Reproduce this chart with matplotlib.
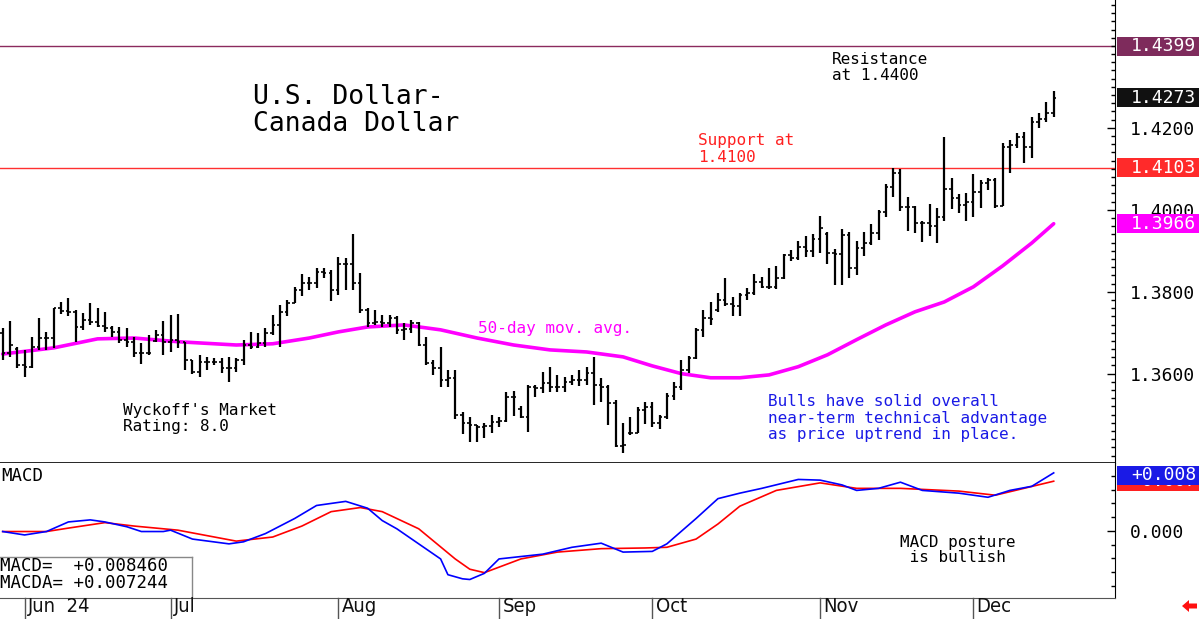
import numpy as np
import pandas as pd
import matplotlib
matplotlib.use('Agg')
import matplotlib.pyplot as plt
from matplotlib.patches import Rectangle, Polygon
from matplotlib.lines import Line2D
from matplotlib.transforms import blended_transform_factory
from matplotlib.ticker import FormatStrFormatter, MultipleLocator, FixedLocator

plt.rcParams['font.family'] = ['DejaVu Sans Mono', 'DejaVu Sans']

# ---------------- data ----------------
start_date = '2024-05-29'

highs = [1.3712, 1.3729, 1.3665, 1.3658, 1.3690, 1.3736, 1.3702, 1.3761, 1.3775, 1.3785,
         1.3756, 1.3748, 1.3773, 1.3761, 1.3751, 1.3717, 1.3714, 1.3712, 1.3690, 1.3675,
         1.3695, 1.3707, 1.3729, 1.3743, 1.3746, 1.3678, 1.3634, 1.3646, 1.3641, 1.3638,
         1.3638, 1.3641, 1.3638, 1.3682, 1.3702, 1.3699, 1.3712, 1.3743, 1.3768, 1.3780,
         1.3812, 1.3843, 1.3836, 1.3858, 1.3858, 1.3853, 1.3885, 1.3883, 1.3941, 1.3846,
         1.3761, 1.3756, 1.3743, 1.3743, 1.3741, 1.3724, 1.3731, 1.3726, 1.3690, 1.3634,
         1.3665, 1.3609, 1.3609, 1.3507, 1.3495, 1.3475, 1.3480, 1.3499, 1.3495, 1.3556,
         1.3558, 1.3521, 1.3573, 1.3573, 1.3604, 1.3617, 1.3597, 1.3592, 1.3597, 1.3609,
         1.3617, 1.3641, 1.3590, 1.3573, 1.3536, 1.3480, 1.3495, 1.3519, 1.3531, 1.3531,
         1.3499, 1.3553, 1.3580, 1.3634, 1.3643, 1.3712, 1.3756, 1.3775, 1.3797, 1.3834,
         1.3787, 1.3797, 1.3809, 1.3843, 1.3836, 1.3858, 1.3863, 1.3892, 1.3902, 1.3924,
         1.3936, 1.3941, 1.3985, 1.3946, 1.3904, 1.3953, 1.3946, 1.3924, 1.3946, 1.3965,
         1.4000, 1.4063, 1.4102, 1.4100, 1.4031, 1.4009, 1.3973, 1.4014, 1.4005, 1.4178,
         1.4078, 1.4039, 1.4041, 1.4087, 1.4073, 1.4078, 1.4078, 1.4163, 1.4170, 1.4188,
         1.4190, 1.4227, 1.4236, 1.4263, 1.4290]

lows = [1.3634, 1.3641, 1.3614, 1.3592, 1.3614, 1.3658, 1.3658, 1.3663, 1.3746, 1.3741,
        1.3678, 1.3707, 1.3719, 1.3714, 1.3702, 1.3690, 1.3675, 1.3665, 1.3641, 1.3624,
        1.3646, 1.3678, 1.3646, 1.3653, 1.3663, 1.3609, 1.3599, 1.3592, 1.3609, 1.3621,
        1.3602, 1.3580, 1.3604, 1.3621, 1.3660, 1.3663, 1.3665, 1.3695, 1.3665, 1.3741,
        1.3773, 1.3790, 1.3804, 1.3809, 1.3834, 1.3778, 1.3792, 1.3804, 1.3804, 1.3748,
        1.3714, 1.3719, 1.3714, 1.3714, 1.3697, 1.3682, 1.3699, 1.3668, 1.3621, 1.3597,
        1.3568, 1.3568, 1.3490, 1.3453, 1.3434, 1.3434, 1.3443, 1.3456, 1.3470, 1.3482,
        1.3497, 1.3492, 1.3458, 1.3543, 1.3553, 1.3556, 1.3556, 1.3556, 1.3573, 1.3570,
        1.3573, 1.3524, 1.3531, 1.3475, 1.3421, 1.3407, 1.3451, 1.3456, 1.3477, 1.3470,
        1.3465, 1.3490, 1.3536, 1.3560, 1.3602, 1.3636, 1.3690, 1.3719, 1.3751, 1.3765,
        1.3741, 1.3741, 1.3780, 1.3792, 1.3809, 1.3807, 1.3807, 1.3831, 1.3875, 1.3878,
        1.3885, 1.3885, 1.3895, 1.3868, 1.3817, 1.3817, 1.3834, 1.3841, 1.3887, 1.3914,
        1.3927, 1.3983, 1.4031, 1.3997, 1.3948, 1.3944, 1.3922, 1.3936, 1.3919, 1.3973,
        1.4002, 1.3992, 1.3973, 1.3983, 1.4005, 1.4048, 1.4005, 1.4009, 1.4090, 1.4151,
        1.4114, 1.4127, 1.4200, 1.4214, 1.4227]

closes = [1.3651, 1.3670, 1.3621, 1.3617, 1.3665, 1.3687, 1.3687, 1.3761, 1.3753, 1.3751,
          1.3714, 1.3731, 1.3726, 1.3717, 1.3712, 1.3702, 1.3682, 1.3678, 1.3651, 1.3651,
          1.3651, 1.3695, 1.3678, 1.3682, 1.3678, 1.3634, 1.3604, 1.3629, 1.3629, 1.3629,
          1.3614, 1.3614, 1.3634, 1.3670, 1.3665, 1.3675, 1.3699, 1.3719, 1.3751, 1.3773,
          1.3804, 1.3821, 1.3821, 1.3848, 1.3846, 1.3804, 1.3868, 1.3868, 1.3821, 1.3756,
          1.3724, 1.3726, 1.3724, 1.3736, 1.3707, 1.3709, 1.3724, 1.3670, 1.3626, 1.3614,
          1.3585, 1.3590, 1.3499, 1.3480, 1.3475, 1.3470, 1.3473, 1.3482, 1.3485, 1.3543,
          1.3543, 1.3495, 1.3568, 1.3565, 1.3577, 1.3568, 1.3568, 1.3580, 1.3585, 1.3585,
          1.3602, 1.3573, 1.3568, 1.3529, 1.3424, 1.3426, 1.3456, 1.3512, 1.3519, 1.3480,
          1.3495, 1.3546, 1.3568, 1.3610, 1.3638, 1.3707, 1.3736, 1.3734, 1.3780, 1.3770,
          1.3765, 1.3792, 1.3797, 1.3824, 1.3812, 1.3812, 1.3834, 1.3890, 1.3883, 1.3909,
          1.3900, 1.3929, 1.3956, 1.3895, 1.3892, 1.3939, 1.3858, 1.3907, 1.3919, 1.3944,
          1.3995, 1.4056, 1.4090, 1.4007, 1.4007, 1.3968, 1.3968, 1.3961, 1.3983, 1.4051,
          1.4029, 1.4012, 1.4019, 1.4044, 1.4066, 1.4073, 1.4009, 1.4153, 1.4158, 1.4178,
          1.4153, 1.4214, 1.4222, 1.4236, 1.4273]

opens = [1.3700, 1.3651, 1.3660, 1.3621, 1.3617, 1.3665, 1.3687, 1.3687, 1.3761, 1.3753,
         1.3751, 1.3714, 1.3731, 1.3726, 1.3717, 1.3712, 1.3702, 1.3682, 1.3678, 1.3651,
         1.3651, 1.3680, 1.3695, 1.3678, 1.3682, 1.3678, 1.3634, 1.3604, 1.3629, 1.3629,
         1.3629, 1.3614, 1.3614, 1.3634, 1.3670, 1.3665, 1.3675, 1.3699, 1.3719, 1.3751,
         1.3773, 1.3804, 1.3821, 1.3821, 1.3848, 1.3846, 1.3804, 1.3868, 1.3868, 1.3821,
         1.3756, 1.3724, 1.3726, 1.3724, 1.3736, 1.3707, 1.3709, 1.3724, 1.3670, 1.3626,
         1.3614, 1.3585, 1.3590, 1.3499, 1.3480, 1.3475, 1.3470, 1.3473, 1.3482, 1.3485,
         1.3543, 1.3515, 1.3495, 1.3568, 1.3565, 1.3577, 1.3568, 1.3568, 1.3580, 1.3585,
         1.3585, 1.3602, 1.3573, 1.3568, 1.3529, 1.3424, 1.3455, 1.3456, 1.3512, 1.3519,
         1.3480, 1.3495, 1.3546, 1.3568, 1.3610, 1.3638, 1.3707, 1.3736, 1.3755, 1.3780,
         1.3770, 1.3765, 1.3792, 1.3797, 1.3824, 1.3812, 1.3812, 1.3834, 1.3890, 1.3883,
         1.3909, 1.3900, 1.3929, 1.3940, 1.3895, 1.3892, 1.3939, 1.3858, 1.3907, 1.3919,
         1.3944, 1.3995, 1.4056, 1.4090, 1.4007, 1.4007, 1.3968, 1.3968, 1.3961, 1.3983,
         1.4051, 1.4029, 1.4012, 1.4019, 1.4044, 1.4066, 1.4073, 1.4009, 1.4153, 1.4158,
         1.4178, 1.4153, 1.4214, 1.4222, 1.4236]

# 50-day moving average, read at selected bars
ma_idx = [0, 7, 13, 18, 24, 32, 37, 42, 46, 50, 55, 60, 65, 70, 75, 80, 85, 89, 93, 97,
          101, 105, 109, 113, 117, 121, 125, 129, 133, 137, 141, 144]
ma_val = [1.3648, 1.3663, 1.3685, 1.3687, 1.3678, 1.3670, 1.3673, 1.3687, 1.3702, 1.3714,
          1.3719, 1.3707, 1.3687, 1.3670, 1.3658, 1.3653, 1.3641, 1.3619, 1.3600, 1.3590,
          1.3590, 1.3597, 1.3617, 1.3646, 1.3683, 1.3719, 1.3751, 1.3775, 1.3812, 1.3863,
          1.3919, 1.3966]

# MACD (blue) and its average MACDA (red), read at selected bars
macd_idx = [0, 3, 6, 9, 12, 14, 17, 19, 22, 23, 26, 31, 33, 36, 40, 43, 47, 50, 52, 54,
            57, 60, 61, 63, 64, 66, 68, 74, 78, 82, 85, 89, 91, 95, 98, 101, 104, 109, 112,
            115, 117, 120, 123, 126, 131, 135, 138, 141, 144]
macd_val = [-0.0001, -0.0006, -0.0001, 0.0013, 0.0016, 0.0013, 0.0006, -0.0001, -0.0001, 0.0001,
            -0.0012, -0.0019, -0.0016, -0.0004, 0.0018, 0.0037, 0.0043, 0.0033, 0.0015, 0.0003,
            -0.0019, -0.0041, -0.0064, -0.0070, -0.0071, -0.0062, -0.0041, -0.0034, -0.0024, -0.0018,
            -0.0031, -0.0030, -0.0019, 0.0018, 0.0047, 0.0055, 0.0062, 0.0075, 0.0074,
            0.0067, 0.0059, 0.0062, 0.0071, 0.0059, 0.0055, 0.0049, 0.0059, 0.0065, 0.00846]
macda_idx = [0, 6, 9, 14, 18, 24, 32, 37, 41, 45, 49, 52, 54, 57, 62, 64, 66, 71, 76, 82,
             88, 91, 95, 98, 101, 106, 112, 117, 123, 131, 136, 144]
macda_val = [-0.0001, -0.0001, 0.0004, 0.0012, 0.0007, 0.0001, -0.0015, -0.0009, 0.0007, 0.0028,
             0.0034, 0.0028, 0.0018, 0.0003, -0.0041, -0.0056, -0.0061, -0.0041, -0.0031, -0.0026,
             -0.0025, -0.0024, -0.0012, 0.0010, 0.0036, 0.0059, 0.0070, 0.0062, 0.0062, 0.0058,
             0.0052, 0.007244]

resistance = 1.4399
support = 1.4103
macd_last = 0.008460
macda_last = 0.007244

# ---------------- figure ----------------
W, H = 1200, 619
fig = plt.figure(figsize=(W / 100, H / 100), dpi=100)
fig.patch.set_facecolor('white')


def fx(px):
    return px / W


def fy(py):
    return 1 - py / H


ax = fig.add_axes([0, fy(463), fx(1115), 463 / H])
ax2 = fig.add_axes([0, fy(598), fx(1115), 135 / H])

n = len(closes)
x = np.arange(n)
xl = (-0.37, 152.4)

# OHLC bars
ax.vlines(x, lows, highs, color='black', lw=1.6, zorder=3)
ax.hlines(opens, x - 0.36, x, color='black', lw=1.2, zorder=3)
ax.hlines(closes, x, x + 0.36, color='black', lw=1.2, zorder=3)

ax.plot(ma_idx, ma_val, color='#FF00FF', lw=2.6, zorder=2, solid_capstyle='round')
ax.axhline(resistance, color='#8B2A5E', lw=1.0, zorder=1)
ax.axhline(support, color='#FF3030', lw=1.0, zorder=1)

ax.set_xlim(*xl)
ax.set_ylim(1.3382, 1.4512)
ax.set_xticks([])
for s in ['top', 'left']:
    ax.spines[s].set_visible(False)
ax.spines['bottom'].set_color('black')
ax.spines['bottom'].set_linewidth(1.2)
ax.spines['right'].set_color('black')
ax.yaxis.tick_right()
ax.yaxis.set_major_locator(FixedLocator([1.36, 1.38, 1.40, 1.42]))
ax.yaxis.set_major_formatter(FormatStrFormatter('%.4f'))
ax.yaxis.set_minor_locator(MultipleLocator(0.002))
ax.tick_params(axis='y', which='major', direction='in', length=6, width=1, pad=11,
               labelsize=13, colors='black')
ax.tick_params(axis='y', which='minor', direction='in', length=3, width=1)

# colored price boxes on right
bt = blended_transform_factory(ax.transAxes, ax.transData)
box_h = 19 * (1.4512 - 1.3382) / 463
for val, fc in [(resistance, '#7E2B5C'), (closes[-1], '#111111'),
                (support, '#FF2A2A'), (ma_val[-1], '#FF00FF')]:
    ax.add_patch(Rectangle((1.0018, val - box_h / 2), 0.0735, box_h, transform=bt,
                           facecolor=fc, edgecolor='none', clip_on=False, zorder=6))
    ax.text(1.0727, val, f'{val:.4f}', transform=bt, ha='right', va='center',
            color='white', fontsize=13, zorder=7, clip_on=False)

# MACD panel
ax2.plot(macda_idx, macda_val, color='#FF0000', lw=1.2, zorder=2)
ax2.plot(macd_idx, macd_val, color='#0000FF', lw=1.2, zorder=3)
ax2.set_xlim(*xl)
ax2.set_ylim(-0.0098, 0.0099)
ax2.set_xticks([])
for s in ['top', 'left']:
    ax2.spines[s].set_visible(False)
ax2.spines['bottom'].set_color('#555555')
ax2.spines['right'].set_color('black')
ax2.yaxis.tick_right()
ax2.yaxis.set_major_locator(FixedLocator([0.0]))
ax2.yaxis.set_major_formatter(FormatStrFormatter('%.3f'))
ax2.yaxis.set_minor_locator(MultipleLocator(0.002))
ax2.tick_params(axis='y', which='major', direction='in', length=6, width=1, pad=11,
                labelsize=13)
ax2.tick_params(axis='y', which='minor', direction='in', length=3, width=1)

bt2 = blended_transform_factory(ax2.transAxes, ax2.transData)
mbox_h = 19 * (0.0099 + 0.0098) / 135
top_c = 0.0099 - mbox_h / 2 - 0.0004
ax2.add_patch(Rectangle((1.0018, macda_last - mbox_h / 2), 0.0735, mbox_h, transform=bt2,
                        facecolor='#FF2020', edgecolor='none', clip_on=False, zorder=6))
ax2.text(1.0727, macda_last, f'{macda_last:+.3f}', transform=bt2, ha='right', va='center',
         color='white', fontsize=13, zorder=6.5, clip_on=False)
mc = min(macd_last, top_c)
ax2.add_patch(Rectangle((1.0018, mc - mbox_h / 2), 0.0735, mbox_h, transform=bt2,
                        facecolor='#1A1AE6', edgecolor='none', clip_on=False, zorder=7))
ax2.text(1.0727, mc, f'{macd_last:+.3f}', transform=bt2, ha='right', va='center',
         color='white', fontsize=13, zorder=8, clip_on=False)

# MACD value box
fig.add_artist(Line2D([fx(-1), fx(192)], [fy(557), fy(557)], color='#888888', lw=1))
fig.add_artist(Line2D([fx(192), fx(192)], [fy(557), fy(598)], color='#888888', lw=1))
fig.text(fx(0), fy(566), f'MACD=  {macd_last:+.6f}', fontsize=12.5, va='center', ha='left')
fig.text(fx(0), fy(583), f'MACDA= {macda_last:+.6f}', fontsize=12.5, va='center', ha='left')
fig.text(fx(1), fy(476), 'MACD', fontsize=12.5, va='center', ha='left')

# date axis
dates = pd.bdate_range(start_date, periods=n)
months = dates.month
starts = [i for i in range(1, n) if months[i] != months[i - 1]]
tx = blended_transform_factory(ax2.transData, fig.transFigure)
for k, i in enumerate(starts):
    fig.add_artist(Line2D([i, i], [fy(598), 0], transform=tx, color='#555555', lw=1))
    lab = dates[i].strftime('%b') + (dates[i].strftime('  %y') if k == 0 else '')
    fig.text(i + 0.45, fy(607), lab, transform=tx, fontsize=14.5, va='center', ha='left',
             family='DejaVu Sans', stretch='condensed', color='#111111')

# annotations
fig.text(fx(253), fy(97), 'U.S. Dollar-', fontsize=19, va='center', ha='left')
fig.text(fx(253), fy(124), 'Canada Dollar', fontsize=19, va='center', ha='left')
fig.text(fx(832), fy(60), 'Resistance', fontsize=11.5, va='center', ha='left')
fig.text(fx(832), fy(76), 'at 1.4400', fontsize=11.5, va='center', ha='left')
fig.text(fx(698), fy(141), 'Support at', fontsize=11.5, va='center', ha='left', color='#FF2020')
fig.text(fx(698), fy(157), '1.4100', fontsize=11.5, va='center', ha='left', color='#FF2020')
fig.text(fx(478), fy(328), '50-day mov. avg.', fontsize=11.5, va='center', ha='left',
         color='#FF00FF')
fig.text(fx(123), fy(410), "Wyckoff's Market", fontsize=11.5, va='center', ha='left')
fig.text(fx(123), fy(426), 'Rating: 8.0', fontsize=11.5, va='center', ha='left')
for j, line in enumerate(['Bulls have solid overall', 'near-term technical advantage',
                          'as price uptrend in place.']):
    fig.text(fx(768), fy(402 + 16 * j), line, fontsize=11.5, va='center', ha='left',
             color='#1A1AE6')
fig.text(fx(900), fy(542), 'MACD posture', fontsize=11.5, va='center', ha='left')
fig.text(fx(900), fy(558), ' is bullish', fontsize=11.5, va='center', ha='left')

# small red arrow bottom-right
fig.add_artist(Polygon([[fx(1182), fy(606)], [fx(1189), fy(600)], [fx(1189), fy(603.5)],
                        [fx(1197), fy(603.5)], [fx(1197), fy(608.5)], [fx(1189), fy(608.5)],
                        [fx(1189), fy(612)]], closed=True, facecolor='#FF1010',
                       edgecolor='none', transform=fig.transFigure))

fig.savefig('out.png', dpi=100)
